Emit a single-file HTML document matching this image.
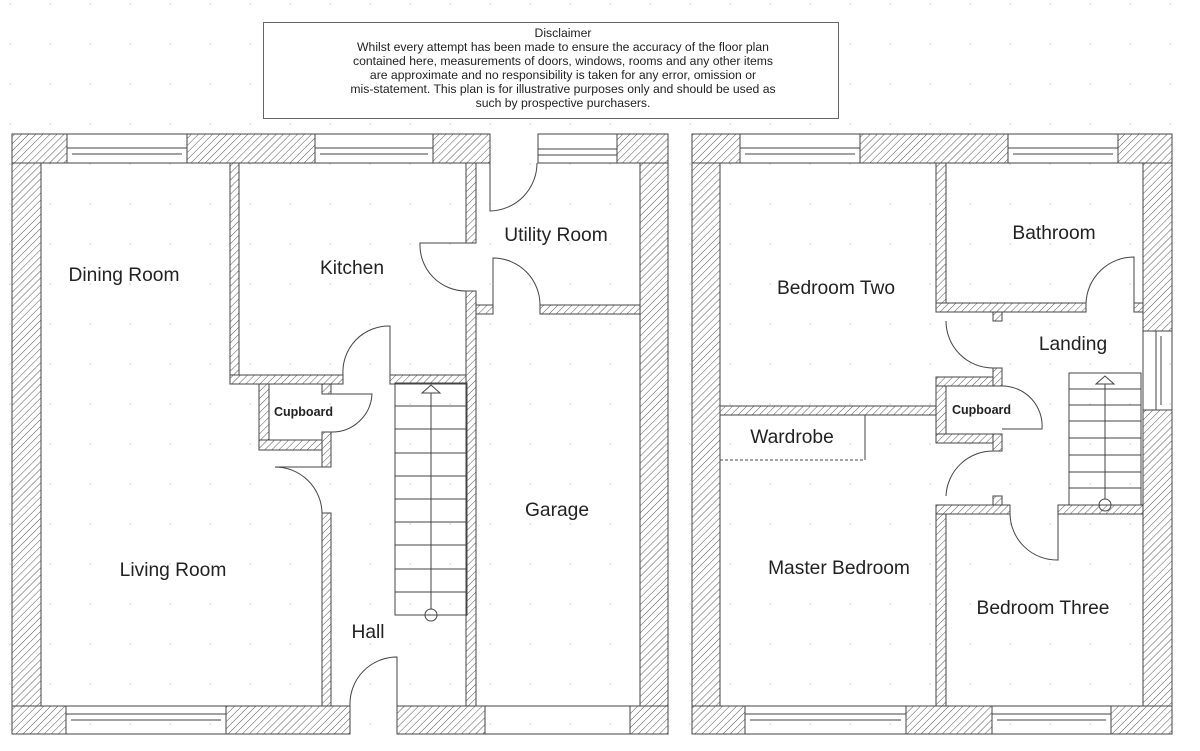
<!DOCTYPE html>
<html><head><meta charset="utf-8"><style>
html,body{margin:0;padding:0;background:#fff;}
svg{display:block;}
text{font-family:"Liberation Sans",Arial,sans-serif;fill:#222;}
</style></head><body>
<svg width="1200" height="751" viewBox="0 0 1200 751" xmlns="http://www.w3.org/2000/svg">
<defs>
<pattern id="h" width="5" height="5" patternUnits="userSpaceOnUse" patternTransform="rotate(45)">
<rect width="5" height="5" fill="#fff"/><line x1="0" y1="0" x2="0" y2="5" stroke="#555" stroke-width="1"/>
</pattern>
<pattern id="dots" width="40" height="40" patternUnits="userSpaceOnUse" x="8" y="2">
<circle cx="2" cy="2" r="0.8" fill="#ccc"/>
</pattern>
</defs>
<rect width="1200" height="751" fill="#fff"/>
<rect width="1200" height="751" fill="url(#dots)"/>

<rect x="263.5" y="22.5" width="575" height="96" fill="#fff" stroke="#666" stroke-width="1"/>
<g font-size="12.2" text-anchor="middle">
<text x="563" y="37">Disclaimer</text>
<text x="563" y="51">Whilst every attempt has been made to ensure the accuracy of the floor plan</text>
<text x="563" y="65">contained here, measurements of doors, windows, rooms and any other items</text>
<text x="563" y="79">are approximate and no responsibility is taken for any error, omission or</text>
<text x="563" y="93">mis-statement. This plan is for illustrative purposes only and should be used as</text>
<text x="563" y="107">such by prospective purchasers.</text>
</g>

<g stroke="#444" stroke-width="1" fill="url(#h)">
<rect x="12" y="134" width="29" height="600"/>
<rect x="640" y="134" width="28" height="600"/>
<rect x="12" y="134" width="55" height="29"/>
<rect x="187" y="134" width="128" height="29"/>
<rect x="433" y="134" width="57" height="29"/>
<rect x="617" y="134" width="51" height="29"/>
<rect x="12" y="706" width="54" height="28"/>
<rect x="226" y="706" width="124" height="28"/>
<rect x="397" y="706" width="88" height="28"/>
<rect x="630" y="706" width="38" height="28"/>
<rect x="230" y="163" width="9" height="221"/>
<rect x="230" y="375" width="113" height="9"/>
<rect x="390" y="375" width="86" height="9"/>
<rect x="466" y="163" width="10" height="80"/>
<rect x="466" y="291" width="10" height="415"/>
<rect x="476" y="305" width="17" height="9"/>
<rect x="540" y="305" width="100" height="9"/>
<rect x="259" y="384" width="10" height="66"/>
<rect x="259" y="440" width="72" height="10"/>
<rect x="322" y="384" width="9" height="10"/>
<rect x="322" y="432" width="9" height="35"/>
<rect x="322" y="513" width="9" height="193"/>
<rect x="692" y="134" width="28" height="600"/>
<rect x="1143" y="134" width="29" height="197"/>
<rect x="1143" y="410" width="29" height="324"/>
<rect x="692" y="134" width="48" height="29"/>
<rect x="860" y="134" width="148" height="29"/>
<rect x="1118" y="134" width="54" height="29"/>
<rect x="692" y="706" width="53" height="28"/>
<rect x="906" y="706" width="86" height="28"/>
<rect x="1111" y="706" width="61" height="28"/>
<rect x="936" y="163" width="10" height="149"/>
<rect x="936" y="303" width="150" height="9"/>
<rect x="1134" y="303" width="9" height="9"/>
<rect x="993" y="312" width="9" height="9"/>
<rect x="720" y="406" width="216" height="9"/>
<rect x="936" y="377" width="10" height="66"/>
<rect x="936" y="377" width="66" height="9"/>
<rect x="936" y="434" width="66" height="9"/>
<rect x="993" y="368" width="9" height="18"/>
<rect x="993" y="434" width="9" height="17"/>
<rect x="936" y="505" width="74" height="9"/>
<rect x="993" y="496" width="9" height="9"/>
<rect x="1058" y="505" width="85" height="9"/>
<rect x="936" y="514" width="10" height="192"/>
</g>

<g stroke="#444" stroke-width="1" fill="none">
<rect x="67" y="134" width="120" height="29"/><line x1="67" y1="148" x2="187" y2="148"/><line x1="72" y1="154" x2="182" y2="154"/>
<rect x="315" y="134" width="118" height="29"/><line x1="315" y1="148" x2="433" y2="148"/><line x1="320" y1="154" x2="428" y2="154"/>
<rect x="538" y="134" width="79" height="29"/><line x1="538" y1="149" x2="617" y2="149"/><line x1="538" y1="155" x2="617" y2="155"/>
<rect x="66" y="706" width="160" height="28"/><line x1="66" y1="714" x2="226" y2="714"/><line x1="71" y1="720" x2="221" y2="720"/>
<rect x="485" y="706" width="145" height="28"/>
<rect x="740" y="134" width="120" height="29"/><line x1="740" y1="148" x2="860" y2="148"/><line x1="745" y1="154" x2="855" y2="154"/>
<rect x="1008" y="134" width="110" height="29"/><line x1="1008" y1="148" x2="1118" y2="148"/><line x1="1013" y1="154" x2="1113" y2="154"/>
<rect x="745" y="706" width="161" height="28"/><line x1="745" y1="714" x2="906" y2="714"/><line x1="750" y1="720" x2="901" y2="720"/>
<rect x="992" y="706" width="119" height="28"/><line x1="992" y1="714" x2="1111" y2="714"/><line x1="997" y1="720" x2="1106" y2="720"/>
<rect x="1143" y="331" width="29" height="79"/><line x1="1156" y1="331" x2="1156" y2="410"/><line x1="1161" y1="336" x2="1161" y2="405"/>

<path d="M490 163 L490 211 A48 48 0 0 0 537 163"/>
<path d="M466 243 L420 243 A46 46 0 0 0 466 291"/>
<path d="M493 305 L493 258 A47 47 0 0 1 540 305"/>
<path d="M343 375 A46 46 0 0 1 390 326 L390 375"/>
<path d="M331 394 L372 394 A40 40 0 0 1 331 432"/>
<path d="M322 467 L275 467 A47 47 0 0 1 322 513"/>
<path d="M350 706 A47 47 0 0 1 397 657 L397 706"/>
<rect x="395" y="383" width="72" height="232"/>
<g>
<line x1="395" y1="406" x2="467" y2="406"/><line x1="395" y1="429" x2="467" y2="429"/><line x1="395" y1="453" x2="467" y2="453"/>
<line x1="395" y1="476" x2="467" y2="476"/><line x1="395" y1="499" x2="467" y2="499"/><line x1="395" y1="522" x2="467" y2="522"/>
<line x1="395" y1="545" x2="467" y2="545"/><line x1="395" y1="569" x2="467" y2="569"/><line x1="395" y1="592" x2="467" y2="592"/>
</g>
<line x1="431" y1="389" x2="431" y2="609"/><path d="M422 393 L431 385 L440 393 Z" fill="#fff"/><circle cx="431" cy="615" r="6"/>

<path d="M1086 303 A48 48 0 0 1 1134 257 L1134 303"/>
<path d="M946 321 A47 47 0 0 0 993 368"/>
<path d="M1002 386 A40 40 0 0 1 1042 429 L1002 429"/>
<path d="M946 496 A47 47 0 0 1 993 451"/>
<path d="M1010 514 A47 47 0 0 0 1058 560 L1058 514"/>
<path d="M865 415 L865 460"/><path d="M720 460 L865 460" stroke-dasharray="3 2"/>
<rect x="1069" y="373" width="72" height="132"/>
<line x1="1069" y1="389" x2="1141" y2="389"/><line x1="1069" y1="405" x2="1141" y2="405"/><line x1="1069" y1="421" x2="1141" y2="421"/>
<line x1="1069" y1="438" x2="1141" y2="438"/><line x1="1069" y1="455" x2="1141" y2="455"/><line x1="1069" y1="472" x2="1141" y2="472"/><line x1="1069" y1="488" x2="1141" y2="488"/>
<line x1="1105" y1="380" x2="1105" y2="499"/><path d="M1096 384 L1105 376 L1114 384 Z" fill="#fff"/><circle cx="1105" cy="505" r="6"/>
</g>

<g font-size="19.2" text-anchor="middle">
<text x="124" y="281">Dining Room</text>
<text x="352" y="274">Kitchen</text>
<text x="556" y="241">Utility Room</text>
<text x="173" y="576">Living Room</text>
<text x="557" y="516">Garage</text>
<text x="368" y="638">Hall</text>
<text x="836" y="294">Bedroom Two</text>
<text x="1054" y="239">Bathroom</text>
<text x="1073" y="350">Landing</text>
<text x="792" y="443">Wardrobe</text>
<text x="839" y="574">Master Bedroom</text>
<text x="1043" y="614">Bedroom Three</text>
</g>
<g font-size="12.5" font-weight="bold">
<text x="274" y="416">Cupboard</text>
<text x="952" y="414">Cupboard</text>
</g>
</svg>
</body></html>
